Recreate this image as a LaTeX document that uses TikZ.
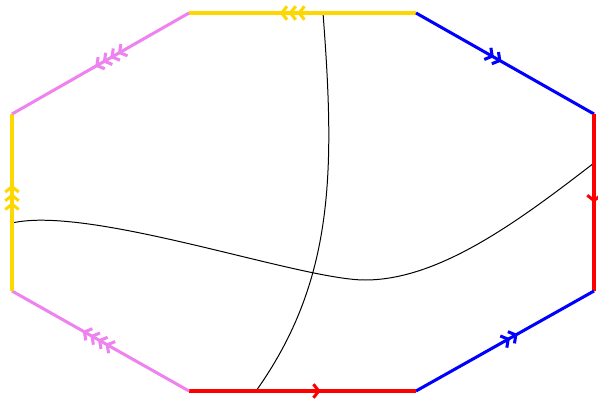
\documentclass[tikz,border=0pt]{standalone}
\usetikzlibrary{arrows.meta,decorations.markings}
\definecolor{cgold}{RGB}{255,215,0}
\definecolor{cviolet}{RGB}{238,130,238}
\definecolor{cblue}{RGB}{0,0,255}
\definecolor{cred}{RGB}{255,0,0}
\tikzset{
  edge/.style={line width=2.6pt},
  m1/.style={postaction={decorate},decoration={markings,mark=at position #1 with {\arrow{Straight Barb[length=4.5pt,width=11.5pt,line width=2.6pt]}}}},
  m2/.style={postaction={decorate},decoration={markings,mark=at position #1 with {\arrow{Straight Barb[length=4.5pt,width=11.5pt,line width=2.6pt,sep=0pt]Straight Barb[length=4.5pt,width=11.5pt,line width=2.6pt]}}}},
  m3/.style={postaction={decorate},decoration={markings,mark=at position #1 with {\arrow{Straight Barb[length=4.5pt,width=11.5pt,line width=2.6pt,sep=0pt]Straight Barb[length=4.5pt,width=11.5pt,line width=2.6pt,sep=0pt]Straight Barb[length=4.5pt,width=11.5pt,line width=2.6pt]}}}},
  m4/.style={postaction={decorate},decoration={markings,mark=at position #1 with {\arrow{Straight Barb[length=4.5pt,width=11.5pt,line width=2.6pt,sep=0pt]Straight Barb[length=4.5pt,width=11.5pt,line width=2.6pt,sep=0pt]Straight Barb[length=4.5pt,width=11.5pt,line width=2.6pt,sep=0pt]Straight Barb[length=4.5pt,width=11.5pt,line width=2.6pt]}}}},
  curve/.style={black,line width=0.85pt}
}
\begin{document}
\begin{tikzpicture}[x=0.03cm,y=-0.03cm]
\useasboundingbox (0,0) rectangle (598,400);
\coordinate (v1) at (189,13);
\coordinate (v2) at (416,13);
\coordinate (v3) at (594,114);
\coordinate (v4) at (594,291);
\coordinate (v5) at (416,391);
\coordinate (v6) at (189,391);
\coordinate (v7) at (12,291);
\coordinate (v8) at (12,114);
\coordinate (a1) at (323,13);
\coordinate (a2) at (256,391);
\coordinate (b1) at (12,223);
\coordinate (b2) at (365,280);
\coordinate (b3) at (594,163);
% curves
\draw[curve] (a1) .. controls (335,170) and (335,280) .. (a2);
\draw[curve] (b1) .. controls (90,205) and (300,280) .. (b2)
             .. controls (440,280) and (520,220) .. (b3);
% edges
\draw[edge,cgold,m3=0.6] (v2) -- (v1);
\draw[edge,cblue,m2=0.48] (v2) -- (v3);
\draw[edge,cred,m1=0.5] (v3) -- (v4);
\draw[edge,cblue,m2=0.57] (v5) -- (v4);
\draw[edge,cred,m1=0.58] (v6) -- (v5);
\draw[edge,cviolet,m4=0.6] (v6) -- (v7);
\draw[edge,cgold,m3=0.6] (v7) -- (v8);
\draw[edge,cviolet,m4=0.53] (v1) -- (v8);
\end{tikzpicture}
\end{document}
